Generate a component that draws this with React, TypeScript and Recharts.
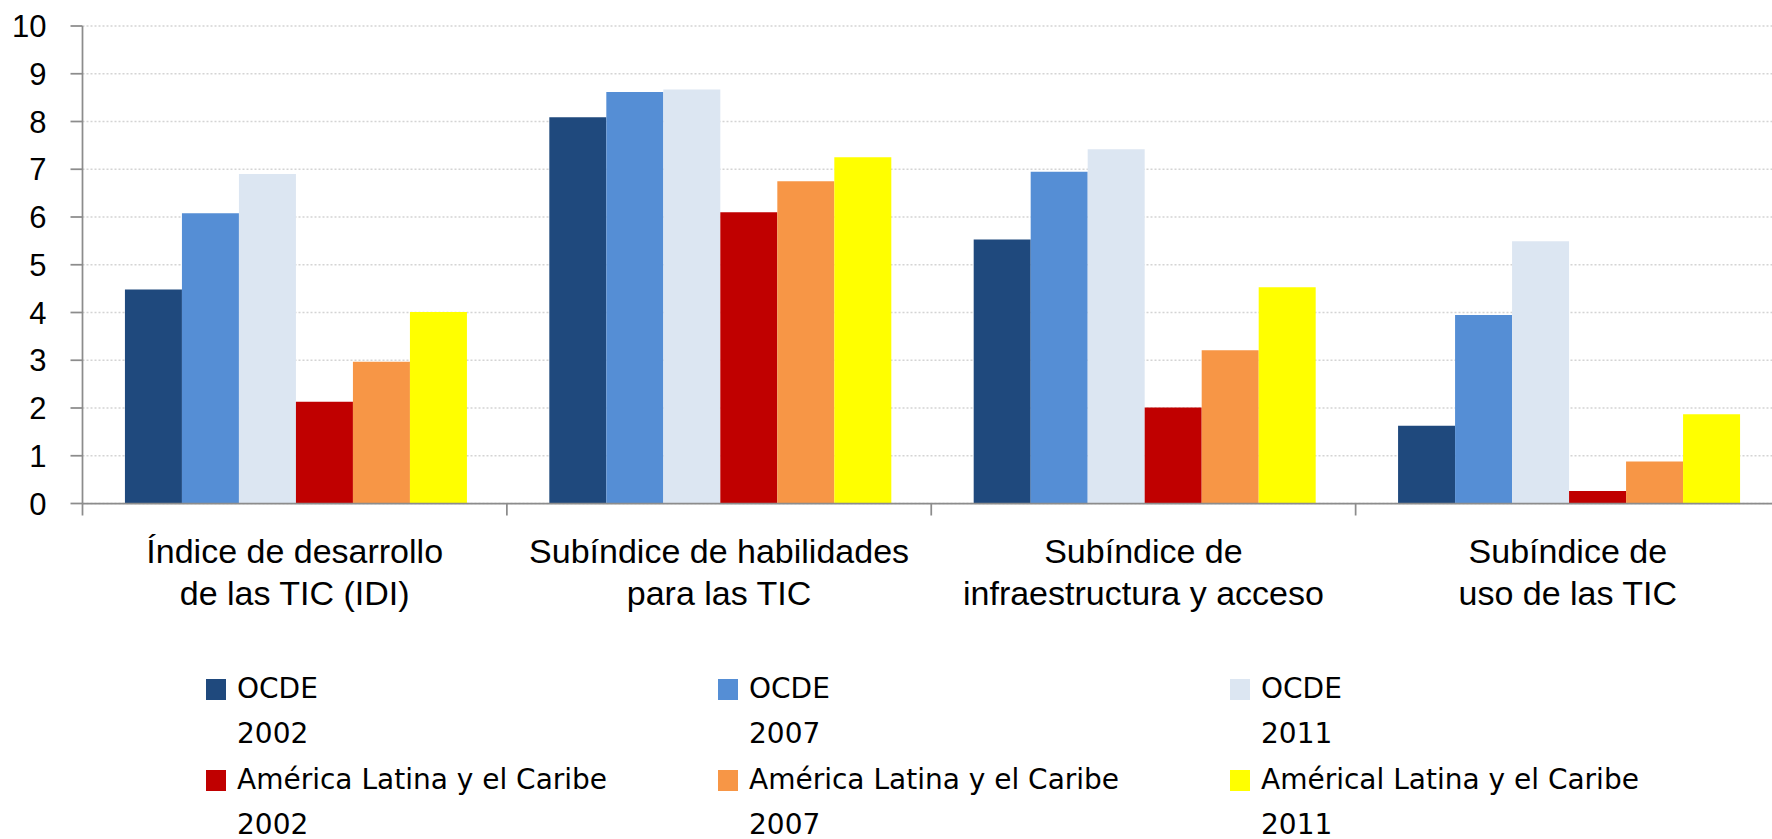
import React from "react";
import { BarChart, Bar, XAxis, YAxis, CartesianGrid, Legend } from "recharts";

const categories = [
  "Índice de desarrollo\nde las TIC (IDI)",
  "Subíndice de habilidades\npara las TIC",
  "Subíndice de\ninfraestructura y acceso",
  "Subíndice de\nuso de las TIC",
];
const ocde2002 = [4.48, 8.09, 5.53, 1.63];
const ocde2007 = [6.08, 8.62, 6.95, 3.95];
const ocde2011 = [6.9, 8.67, 7.42, 5.49];
const alc2002 = [2.13, 6.1, 2.01, 0.26];
const alc2007 = [2.97, 6.75, 3.21, 0.88];
const alc2011 = [4.01, 7.25, 4.53, 1.87];

const seriesNames = [
  "OCDE\n2002",
  "OCDE\n2007",
  "OCDE\n2011",
  "América Latina y el Caribe\n2002",
  "América Latina y el Caribe\n2007",
  "Américal Latina y el Caribe\n2011",
];
const seriesColors = ["#1F497D", "#558ED5", "#DCE6F2", "#C00000", "#F79646", "#FFFF00"];
const seriesValues = [ocde2002, ocde2007, ocde2011, alc2002, alc2007, alc2011];
const seriesKeys = ["s0", "s1", "s2", "s3", "s4", "s5"];

const yTicks = [0, 1, 2, 3, 4, 5, 6, 7, 8, 9, 10];

const data = categories.map((name, i) => {
  const row: Record<string, number | string> = { name };
  seriesKeys.forEach((k, j) => {
    row[k] = seriesValues[j][i];
  });
  return row;
});

const AXIS = "#8C8C8C";
const FONT = "'Liberation Sans', Arial, sans-serif";

const CategoryTick = (props: any) => {
  const { x, y, payload, index, visibleTicksCount } = props;
  const lines = String(payload.value).split("\n");
  const half = payload.offset || 0;
  const isLast = index === (visibleTicksCount ?? categories.length) - 1;
  return (
    <g>
      <line x1={x - half} x2={x - half} y1={y} y2={y + 12} stroke={AXIS} strokeWidth={1.75} />
      {isLast && (
        <line x1={x + half} x2={x + half} y1={y} y2={y + 12} stroke={AXIS} strokeWidth={1.75} />
      )}
      {lines.map((ln, i) => (
        <text
          key={i}
          x={x}
          y={y + 59 + i * 42}
          textAnchor="middle"
          fontSize={34}
          fontFamily={FONT}
          fill="#000"
        >
          {ln}
        </text>
      ))}
    </g>
  );
};

const LegendContent = (props: any) => {
  const payload = (props.payload || []).slice().sort(
    (a: any, b: any) => seriesKeys.indexOf(a.dataKey) - seriesKeys.indexOf(b.dataKey)
  );
  return (
    <div style={{ position: "relative", width: 1772, height: 164 }}>
      {payload.map((p: any, i: number) => {
        const col = i % 3;
        const row = Math.floor(i / 3);
        const lines = String(p.value).split("\n");
        return (
          <div
            key={i}
            style={{
              position: "absolute",
              left: 206 + col * 512,
              top: row * 91,
            }}
          >
            <div
              style={{
                position: "absolute",
                left: 0,
                top: 4,
                width: 20,
                height: 21,
                background: p.color,
              }}
            />
            {lines.map((l, k) => (
              <div
                key={k}
                style={{
                  position: "absolute",
                  left: 31,
                  top: k * 45,
                  whiteSpace: "nowrap",
                  fontFamily: "'DejaVu Sans', sans-serif",
                  fontSize: 28,
                  lineHeight: "28px",
                  color: "#000",
                }}
              >
                {l}
              </div>
            ))}
          </div>
        );
      })}
    </div>
  );
};

export default function App() {
  return (
    <div
      style={{
        position: "fixed",
        left: 0,
        top: 0,
        width: 1772,
        height: 839,
        overflow: "hidden",
        background: "#fff",
      }}
    >
      <BarChart
        width={1781}
        height={839}
        data={data}
        margin={{ top: 26, right: 1, left: 0, bottom: 0 }}
        barCategoryGap="10%"
        barGap={0}
      >
        <CartesianGrid
          vertical={false}
          stroke="#D4D4D4"
          strokeDasharray="2 2"
          strokeWidth={1.5}
        />
        <XAxis
          dataKey="name"
          type="category"
          height={335.5}
          axisLine={{ stroke: AXIS, strokeWidth: 1.75 }}
          tickLine={false}
          tickSize={0}
          tickMargin={0}
          interval={0}
          tick={<CategoryTick />}
        />
        <YAxis
          domain={[0, 10]}
          ticks={yTicks}
          interval={0}
          width={82.5}
          tickSize={12}
          tickMargin={24}
          axisLine={{ stroke: AXIS, strokeWidth: 1.75 }}
          tickLine={{ stroke: AXIS, strokeWidth: 1.75 }}
          tick={{ fontSize: 31, fill: "#000", fontFamily: FONT }}
        />
        <Legend
          verticalAlign="middle"
          align="center"
          layout="horizontal"
          wrapperStyle={{ left: 0, top: 675, width: 1772 }}
          content={<LegendContent />}
        />
        {seriesKeys.map((k, j) => (
          <Bar
            key={k}
            dataKey={k}
            name={seriesNames[j]}
            fill={seriesColors[j]}
            isAnimationActive={false}
          />
        ))}
      </BarChart>
    </div>
  );
}
